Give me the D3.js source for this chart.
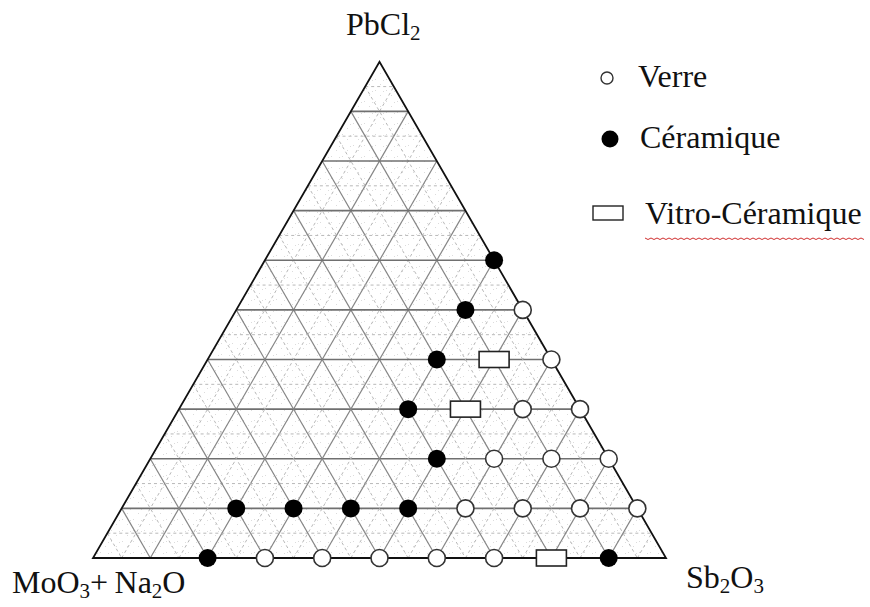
<!DOCTYPE html>
<html>
<head>
<meta charset="utf-8">
<script src="https://cdn.jsdelivr.net/npm/d3@7"></script>
<style>
  body { margin: 0; background: #fff; }
  text { font-family: "Liberation Serif", "Times New Roman", serif; fill: #111; }
</style>
</head>
<body>
<div id="chart"></div>
<script>
// compositions as [PbCl2 %, Sb2O3 %]; MoO3+Na2O is the rest
const verre = [[0, 30], [0, 40], [0, 50], [0, 60], [0, 70],
               [10, 60], [10, 70], [10, 80], [10, 90],
               [20, 60], [20, 70], [20, 80],
               [30, 60], [30, 70],
               [40, 60],
               [50, 50]];
const ceramique = [[0, 20], [0, 90],
                   [10, 20], [10, 30], [10, 40], [10, 50],
                   [20, 50], [30, 40], [40, 40], [50, 40], [60, 40]];
const vitro = [[0, 80], [30, 50], [40, 50]];
const legendLabels = ["Verre", "Céramique", "Vitro-Céramique"];

let width = 870, height = 607;
let svg = d3.select("#chart").append("svg")
    .attr("width", width)
    .attr("height", height);

let x0 = 93, base = 558, sideLen = 573;
let side = d3.scaleLinear().domain([0, 100]).range([0, sideLen]);
let y = d3.scaleLinear().domain([0, 100]).range([base, base - sideLen * Math.sqrt(3) / 2]);
let px = (pb, sb) => x0 + side(sb) + side(pb) / 2;
let py = (pb, sb) => y(pb);

// light stipple background
let defs = svg.append("defs");
let pat = defs.append("pattern").attr("id", "stip")
    .attr("width", 11).attr("height", 11).attr("patternUnits", "userSpaceOnUse");
[[1, 2], [6, 7], [9, 3]].forEach(d => {
    pat.append("rect").attr("x", d[0]).attr("y", d[1]).attr("width", 1).attr("height", 1).attr("fill", "#dcdcdc");
});

let tri = [[0, 0], [0, 100], [100, 0]].map(d => [px(d[0], d[1]), py(d[0], d[1])]);
svg.append("polygon")
    .attr("points", tri.map(d => d.join(",")).join(" "))
    .attr("fill", "url(#stip)");

// grid lines
let grid = svg.append("g");
d3.range(5, 100, 5).forEach(t => {
    let major = t % 10 === 0;
    let segs = [
        { a: [t, 0], b: [t, 100 - t], h: true },
        { a: [0, t], b: [100 - t, t], h: false },
        { a: [100 - t, 0], b: [0, 100 - t], h: false }
    ];
    segs.forEach(s => {
        grid.append("line")
            .attr("x1", px(s.a[0], s.a[1])).attr("y1", py(s.a[0], s.a[1]))
            .attr("x2", px(s.b[0], s.b[1])).attr("y2", py(s.b[0], s.b[1]))
            .attr("stroke", major ? (s.h ? "#707070" : "#858585") : "#b8b8b8")
            .attr("stroke-width", major ? (s.h ? 1.6 : 1.2) : 1)
            .attr("stroke-dasharray", major ? null : "3,3");
    });
});

svg.append("polygon")
    .attr("points", tri.map(d => d.join(",")).join(" "))
    .attr("fill", "none")
    .attr("stroke", "#111")
    .attr("stroke-width", 1.8);

// points
svg.append("g").selectAll("circle.v")
    .data(verre).enter().append("circle")
    .attr("cx", d => px(d[0], d[1])).attr("cy", d => py(d[0], d[1]))
    .attr("r", 8.5).attr("fill", "#fff").attr("stroke", "#333").attr("stroke-width", 1.6);

svg.append("g").selectAll("circle.c")
    .data(ceramique).enter().append("circle")
    .attr("cx", d => px(d[0], d[1])).attr("cy", d => py(d[0], d[1]))
    .attr("r", 9).attr("fill", "#000");

svg.append("g").selectAll("rect")
    .data(vitro).enter().append("rect")
    .attr("x", d => px(d[0], d[1]) - 15).attr("y", d => py(d[0], d[1]) - 8)
    .attr("width", 30).attr("height", 16)
    .attr("fill", "#fff").attr("stroke", "#222").attr("stroke-width", 1.6);

// vertex labels
function chem(g, parts, xx, yy) {
    let t = g.append("text").attr("x", xx).attr("y", yy).attr("font-size", 32);
    parts.forEach(p => {
        if (p.sub) {
            t.append("tspan").attr("font-size", 21).attr("dy", 5).text(p.s);
        } else {
            t.append("tspan").attr("dy", p.up ? -5 : 0).text(p.s);
        }
    });
    return t;
}
chem(svg, [{ s: "PbCl" }, { s: "2", sub: true }], 346, 35);
chem(svg, [{ s: "MoO" }, { s: "3", sub: true }, { s: "+\u2009", up: true }, { s: "Na" }, { s: "2", sub: true }, { s: "O", up: true }], 12, 593);
chem(svg, [{ s: "Sb" }, { s: "2", sub: true }, { s: "O", up: true }, { s: "3", sub: true }], 686, 588);

// legend
let leg = svg.append("g");
leg.append("circle").attr("cx", 607).attr("cy", 78).attr("r", 6)
    .attr("fill", "#fff").attr("stroke", "#333").attr("stroke-width", 1.4);
leg.append("circle").attr("cx", 610).attr("cy", 139).attr("r", 8.5).attr("fill", "#000");
leg.append("rect").attr("x", 593).attr("y", 206).attr("width", 30).attr("height", 14)
    .attr("fill", "#fff").attr("stroke", "#222").attr("stroke-width", 1.4);
let legY = [87, 148, 224], legX = [638, 640, 645];
legendLabels.forEach((l, i) => {
    leg.append("text").attr("x", legX[i]).attr("y", legY[i]).attr("font-size", 32).text(l);
});

// spell-check squiggle under the last legend label
let sq = d3.range(0, 221, 3).map((d, i) => [645 + d, 238 + (i % 2 ? 1.5 : 0)]);
leg.append("path").attr("d", d3.line()(sq))
    .attr("fill", "none").attr("stroke", "#d03030").attr("stroke-width", 1);
</script>
</body>
</html>
